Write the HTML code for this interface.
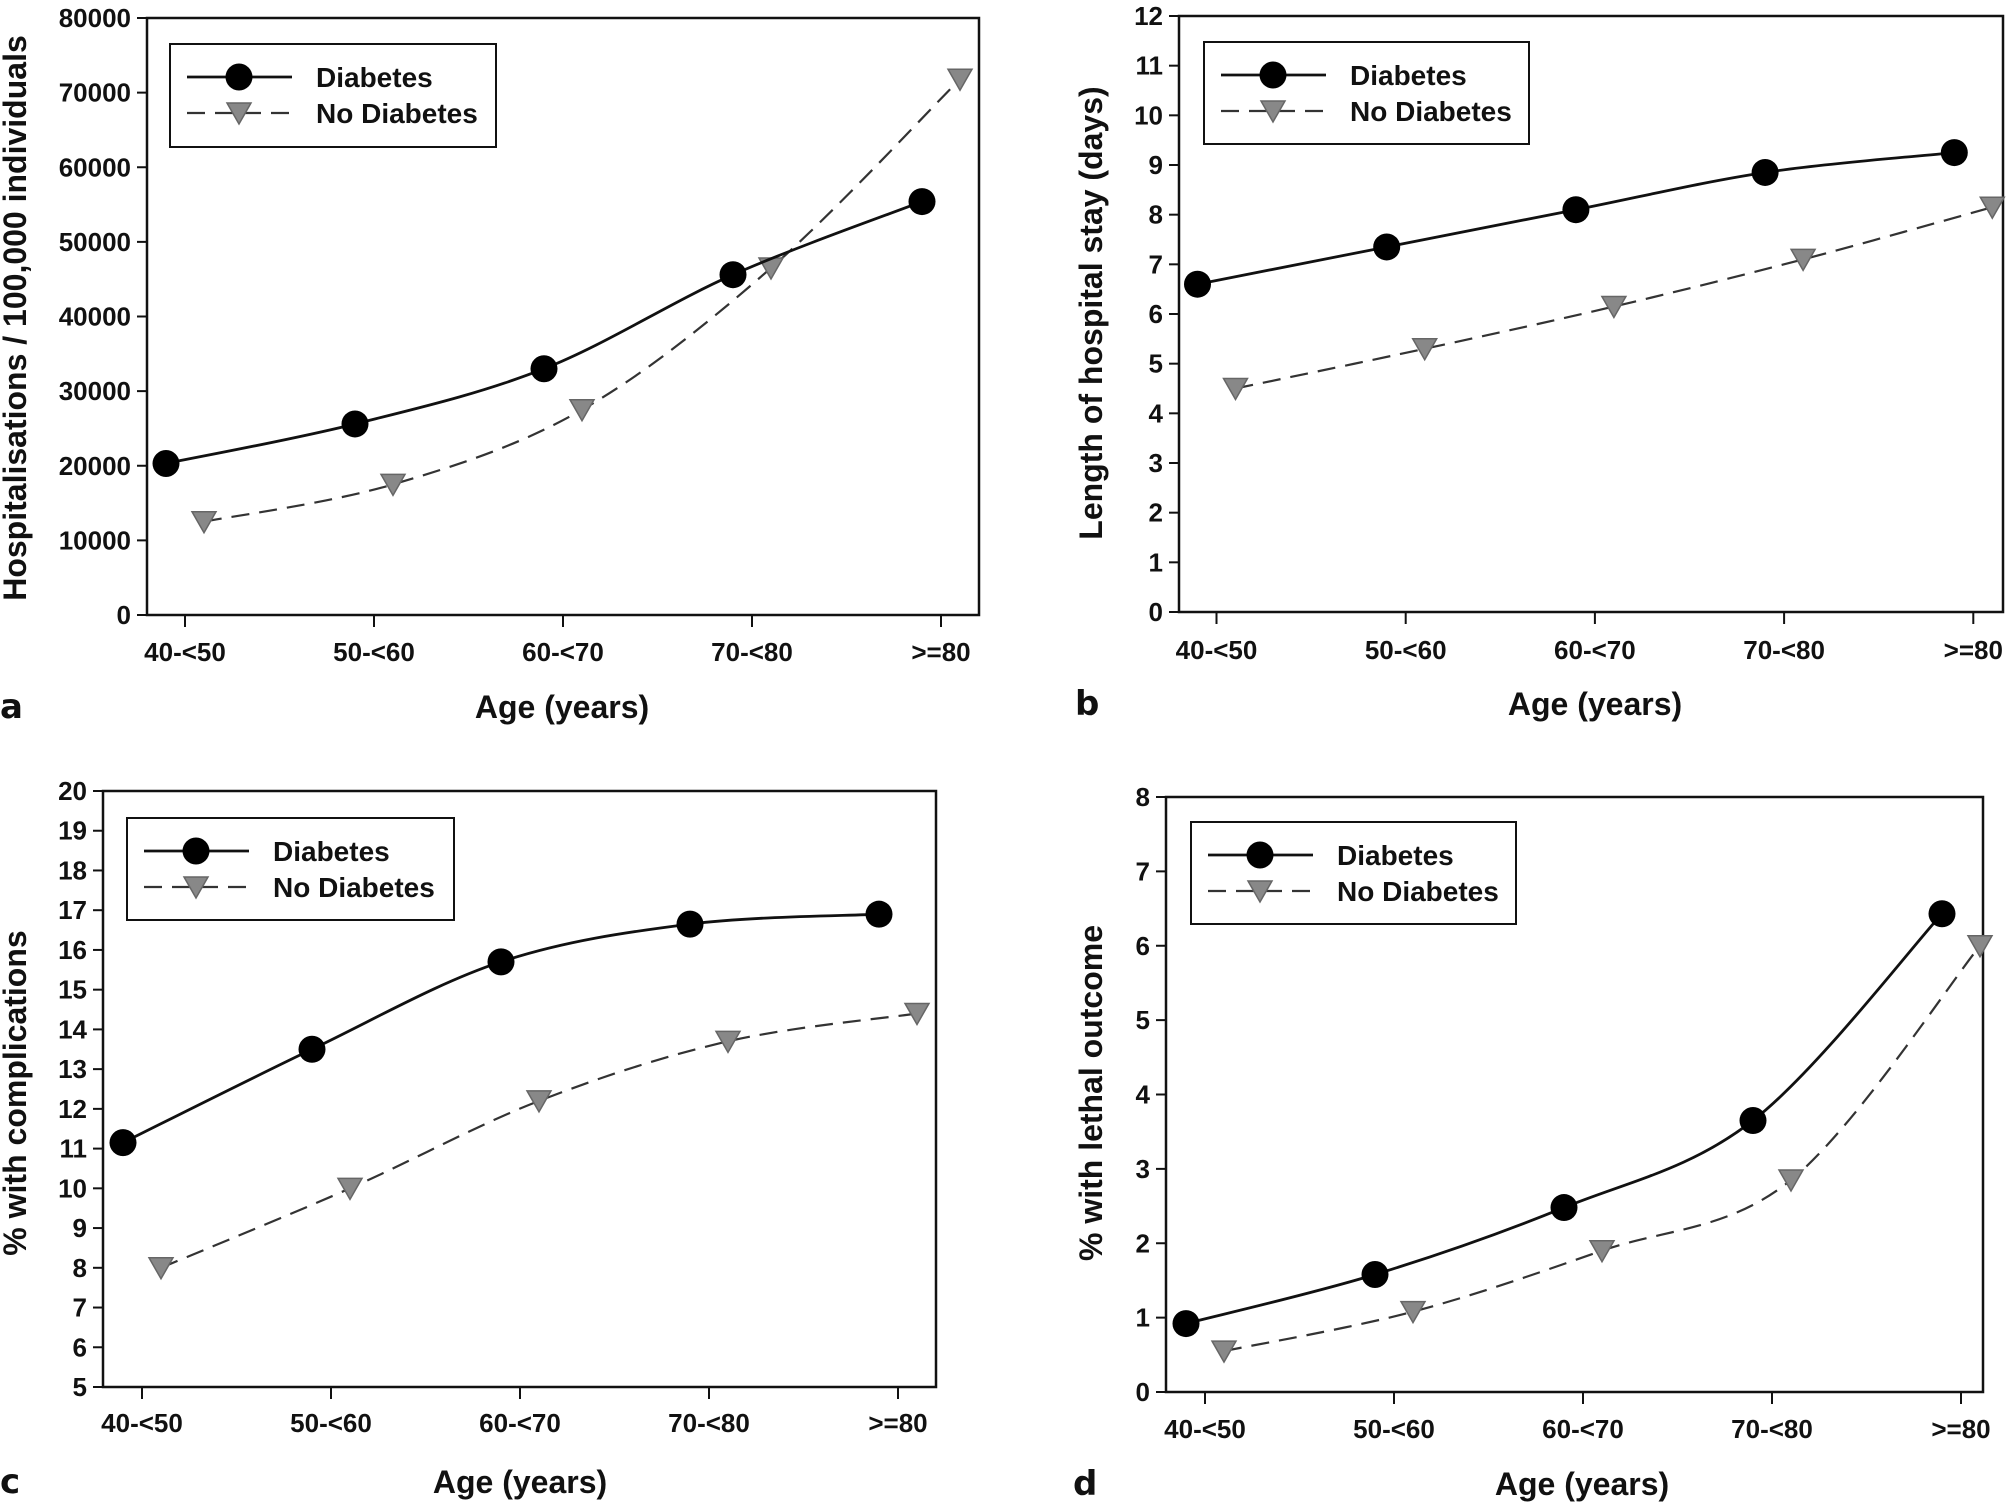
<!DOCTYPE html>
<html><head><meta charset="utf-8"><style>
html,body{margin:0;padding:0;background:#fff;overflow:hidden}
svg{display:block}
text{font-family:"Liberation Sans",sans-serif;font-weight:bold;fill:#111}
.t{font-size:26px}
.ttl{font-size:32px}
.ytl{font-size:32px}
.lg{font-size:28px}
.pl{font-family:"DejaVu Sans","Liberation Sans",sans-serif;font-size:34px}
</style></head><body>
<svg id="fig" width="2008" height="1502" viewBox="0 0 2008 1502" xmlns="http://www.w3.org/2000/svg"></svg>
<script>
const categories = ["40-<50","50-<60","60-<70","70-<80",">=80"];
const aDiab = [20300,25600,33000,45600,55400];
const aNoDiab = [12500,17500,27500,46500,71800];
const aTicks = [0,10000,20000,30000,40000,50000,60000,70000,80000];
const bDiab = [6.6,7.35,8.1,8.85,9.25];
const bNoDiab = [4.5,5.3,6.15,7.1,8.15];
const bTicks = [0,1,2,3,4,5,6,7,8,9,10,11,12];
const cDiab = [11.15,13.5,15.7,16.65,16.9];
const cNoDiab = [8.0,10.0,12.2,13.7,14.4];
const cTicks = [5,6,7,8,9,10,11,12,13,14,15,16,17,18,19,20];
const dDiab = [0.92,1.58,2.48,3.65,6.43];
const dNoDiab = [0.55,1.08,1.9,2.85,6.0];
const dTicks = [0,1,2,3,4,5,6,7,8];

const NS="http://www.w3.org/2000/svg";
const svg=document.getElementById('fig');
function mk(tag,attrs,parent,txt){const e=document.createElementNS(NS,tag);for(const k in attrs)e.setAttribute(k,attrs[k]);if(txt!==undefined)e.textContent=txt;(parent||svg).appendChild(e);return e;}
function smooth(pts){
  let d=`M${pts[0][0]},${pts[0][1]}`;
  for(let i=0;i<pts.length-1;i++){
    const p0=pts[i-1]||pts[i],p1=pts[i],p2=pts[i+1],p3=pts[i+2]||pts[i+1];
    const c1=[p1[0]+(p2[0]-p0[0])/6,p1[1]+(p2[1]-p0[1])/6];
    const c2=[p2[0]-(p3[0]-p1[0])/6,p2[1]-(p3[1]-p1[1])/6];
    d+=` C${c1[0]},${c1[1]} ${c2[0]},${c2[1]} ${p2[0]},${p2[1]}`;
  }
  return d;
}
function panel(cfg){
  const g=mk('g',{},svg);
  
  
  const {L,R,T,B,ticks,x0,dx,diab,nodiab}=cfg;
  const ymin=ticks[0],ymax=ticks[ticks.length-1];
  const y=v=>B-(v-ymin)/(ymax-ymin)*(B-T);
  const x=i=>x0+i*dx;
  const fr=mk('rect',{x:L,y:T,width:R-L,height:B-T,fill:'none',stroke:'#111','stroke-width':2.5},g);
  
  
  ticks.forEach(t=>{
    mk('line',{x1:L-10,y1:y(t),x2:L,y2:y(t),stroke:'#111','stroke-width':2},g);
    const tl=mk('text',{x:L-16,y:y(t)+9,'text-anchor':'end',class:'t'},g,String(t));
    
    
  });
  categories.forEach((c,i)=>{
    mk('line',{x1:x(i),y1:B,x2:x(i),y2:B+12,stroke:'#111','stroke-width':2},g);
    const tl=mk('text',{x:x(i),y:cfg.tickY,'text-anchor':'middle',class:'t'},g,c);
    
    
  });
  const xt=mk('text',{x:cfg.titleX,y:cfg.titleY,'text-anchor':'middle',class:'ttl'},g,'Age (years)');
  
  
  const yt=mk('text',{x:0,y:0,'text-anchor':'middle',class:'ytl',transform:`translate(${cfg.yTitleX},${cfg.yTitleY}) rotate(-90)`},g,cfg.yTitle);
  
  
  const pl=mk('text',{x:cfg.letterX,y:cfg.titleY,class:'pl'},g,cfg.id);
  
  
  const np=nodiab.map((v,i)=>[x(i)+19,y(v)]);
  const nl=mk('path',{d:smooth(np),fill:'none',stroke:'#333','stroke-width':2.2,'stroke-dasharray':'18,10'},g);
  
  
  np.forEach(p=>{
    const t=mk('polygon',{points:`${p[0]-12},${p[1]-10} ${p[0]+12},${p[1]-10} ${p[0]},${p[1]+11}`,fill:'#888',stroke:'#666','stroke-width':1.5},g);
    
    
  });
  const dp=diab.map((v,i)=>[x(i)-19,y(v)]);
  const dl=mk('path',{d:smooth(dp),fill:'none',stroke:'#111','stroke-width':2.8},g);
  
  
  dp.forEach(p=>{
    const c=mk('circle',{cx:p[0],cy:p[1],r:13.5,fill:'#000'},g);
    
    
  });
  const [lx,ly,lw,lh]=cfg.legend;
  const lg=mk('g',{},g);
  
  
  mk('rect',{x:lx,y:ly,width:lw,height:lh,fill:'#fff',stroke:'#111','stroke-width':2},lg);
  const r1=ly+33,r2=ly+69;
  mk('line',{x1:lx+17,y1:r1,x2:lx+122,y2:r1,stroke:'#111','stroke-width':2.8},lg);
  mk('circle',{cx:lx+69,cy:r1,r:13.5,fill:'#000'},lg);
  mk('line',{x1:lx+17,y1:r2,x2:lx+122,y2:r2,stroke:'#333','stroke-width':2.2,'stroke-dasharray':'18,10'},lg);
  mk('polygon',{points:`${lx+57},${r2-10} ${lx+81},${r2-10} ${lx+69},${r2+11}`,fill:'#888',stroke:'#666','stroke-width':1.5},lg);
  const e1=mk('text',{x:lx+146,y:r1+10,class:'lg'},lg,'Diabetes');
  
  
  const e2=mk('text',{x:lx+146,y:r2+10,class:'lg'},lg,'No Diabetes');
  
  
}
panel({id:'a',L:147,R:979,T:18,B:615,ticks:aTicks,x0:185,dx:189,diab:aDiab,nodiab:aNoDiab,tickY:661,titleX:562,titleY:718,letterX:0,yTitle:'Hospitalisations / 100,000 individuals',yTitleX:26,yTitleY:318,legend:[170,44,326,103]});
panel({id:'b',L:1179,R:2003,T:16,B:612,ticks:bTicks,x0:1216.5,dx:189.2,diab:bDiab,nodiab:bNoDiab,tickY:659,titleX:1595,titleY:715,letterX:1075,yTitle:'Length of hospital stay (days)',yTitleX:1102,yTitleY:313,legend:[1204,42,325,102]});
panel({id:'c',L:103,R:936,T:791,B:1387,ticks:cTicks,x0:142,dx:189,diab:cDiab,nodiab:cNoDiab,tickY:1432,titleX:520,titleY:1493,letterX:0,yTitle:'% with complications',yTitleX:26,yTitleY:1093,legend:[127,818,327,102]});
panel({id:'d',L:1166,R:1983,T:797,B:1392,ticks:dTicks,x0:1205,dx:189,diab:dDiab,nodiab:dNoDiab,tickY:1438,titleX:1582,titleY:1495,letterX:1073,yTitle:'% with lethal outcome',yTitleX:1102,yTitleY:1093,legend:[1191,822,325,102]});
</script>
</body></html>
